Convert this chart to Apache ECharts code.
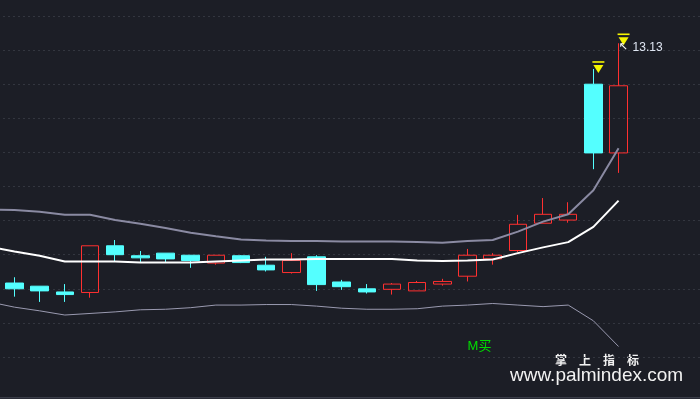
<!DOCTYPE html>
<html>
<head>
<meta charset="utf-8">
<script src="https://cdn.jsdelivr.net/npm/echarts@6/dist/echarts.min.js"></script>
<style>
  html, body { margin: 0; padding: 0; background: #1c1e26; }
  #chart { width: 700px; height: 399px; }
</style>
</head>
<body>
<div id="chart"></div>
<script>
// first slot is the day before the visible window (only the bands reach it)
const categories = ['D0', 'D1', 'D2', 'D3', 'D4', 'D5', 'D6', 'D7', 'D8', 'D9', 'D10', 'D11', 'D12',
    'D13', 'D14', 'D15', 'D16', 'D17', 'D18', 'D19', 'D20', 'D21', 'D22', 'D23', 'D24', 'D25'];

const opens  = [null, 8.56, 8.50, 8.39, 8.38, 9.27, 9.08, 9.13, 9.09, 8.94, 9.08, 8.90, 8.76, 9.06,
    8.58, 8.45, 8.44, 8.41, 8.54, 8.69, 9.02, 9.18, 9.70, 9.76, 12.35, 11.04];
const closes = [null, 8.45, 8.41, 8.34, 9.27, 9.10, 9.04, 9.02, 8.99, 9.09, 8.95, 8.81, 8.99, 8.53,
    8.49, 8.39, 8.54, 8.57, 8.59, 9.09, 9.09, 9.68, 9.87, 9.87, 11.04, 12.32];
const lows   = [null, 8.30, 8.20, 8.20, 8.28, 8.97, 8.96, 8.95, 8.85, 8.91, 8.94, 8.78, 8.74, 8.41,
    8.43, 8.36, 8.34, 8.41, 8.51, 8.59, 8.91, 9.15, 9.70, 9.71, 10.73, 10.66];
const highs  = [null, 8.67, 8.50, 8.54, 9.27, 9.38, 9.17, 9.13, 9.09, 9.09, 9.09, 9.06, 9.13, 9.09,
    8.62, 8.54, 8.56, 8.60, 8.64, 9.21, 9.13, 9.86, 10.18, 10.10, 12.64, 13.13];

const upperBand = [9.96, 9.95, 9.92, 9.86, 9.86, 9.76, 9.69, 9.61, 9.52, 9.45, 9.39, 9.37, 9.36,
    9.36, 9.35, 9.35, 9.35, 9.34, 9.33, 9.36, 9.38, 9.54, 9.73, 9.87, 10.33, 11.13];
const midBand   = [9.25, 9.16, 9.08, 8.97, 8.97, 8.97, 8.95, 8.95, 8.95, 8.97, 8.99, 9.01, 9.01,
    9.02, 9.02, 9.02, 9.02, 8.99, 8.98, 8.99, 9.01, 9.13, 9.24, 9.34, 9.63, 10.13];
const lowerBand = [8.20, 8.10, 8.03, 7.95, 7.98, 8.01, 8.05, 8.06, 8.09, 8.14, 8.14, 8.15, 8.15,
    8.12, 8.08, 8.06, 8.06, 8.07, 8.12, 8.14, 8.17, 8.14, 8.11, 8.14, 7.84, 7.35];

// yellow flags over these days, price tag on the last one
const flagDays = [24, 25];
const tagDay = 25;
// buy signal text
const signalDay = 19;
const signalValue = 7.36;
const signalText = 'M买';

const Y_MIN = 7.15, Y_MAX = 13.65, Y_STEP = 0.65;

const candleData = categories.map((c, i) =>
    opens[i] == null ? '-' : [opens[i], closes[i], lows[i], highs[i]]);

const markData = [];
flagDays.forEach(d => {
    const dy = d === tagDay ? -2 : 0;
    markData.push({
        coord: [categories[d], highs[d]],
        symbol: 'triangle', symbolRotate: 180, symbolSize: [10, 8],
        symbolOffset: [5, dy], itemStyle: { color: '#f5f500' }, label: { show: false }
    });
    markData.push({
        coord: [categories[d], highs[d]],
        symbol: 'rect', symbolSize: [12, 1.6],
        symbolOffset: [5, dy - 7], itemStyle: { color: '#f5f500' }, label: { show: false }
    });
});
markData.push({
    coord: [categories[tagDay], highs[tagDay]],
    value: highs[tagDay],
    symbol: 'circle', symbolSize: 0,
    label: {
        show: true, position: 'inside', align: 'left', verticalAlign: 'middle',
        offset: [0, 4],
        formatter: p => '{a|↖}{b|' + p.value.toFixed(2) + '}',
        rich: {
            a: { color: '#ffffff', fontSize: 11, width: 14, fontFamily: 'DejaVu Sans' },
            b: { color: '#dfe6f2', fontSize: 12, fontFamily: 'Liberation Sans' }
        }
    }
});
markData.push({
    coord: [categories[signalDay], signalValue],
    value: signalText,
    symbol: 'circle', symbolSize: 0,
    label: {
        show: true, position: 'inside', align: 'left', verticalAlign: 'middle',
        formatter: signalText, color: '#00dd00', fontSize: 13,
        fontFamily: 'Liberation Sans, Noto Sans CJK SC'
    }
});

const chart = echarts.init(document.getElementById('chart'));

const option = {
    backgroundColor: '#1c1e26',
    animation: false,
    grid: [
        { left: 3, right: 0, top: 16, height: 341, outerBoundsMode: 'none' },
        { left: -23.25, width: 654.4, top: 16, height: 341, outerBoundsMode: 'none' }
    ],
    xAxis: [
        { gridIndex: 0, type: 'value', min: 0, max: 1, show: false },
        { gridIndex: 1, type: 'category', data: categories, boundaryGap: true, show: false }
    ],
    yAxis: [
        {
            gridIndex: 0, type: 'value', min: Y_MIN, max: Y_MAX, interval: Y_STEP,
            axisLine: { show: false }, axisTick: { show: false }, axisLabel: { show: false },
            splitLine: { show: true, lineStyle: { color: '#33363f', type: [2, 3], width: 1 } }
        },
        {
            gridIndex: 1, type: 'value', min: Y_MIN, max: Y_MAX, interval: Y_STEP,
            show: false, splitLine: { show: false }
        }
    ],
    series: [
        {
            type: 'candlestick',
            xAxisIndex: 1, yAxisIndex: 1,
            data: candleData,
            barWidth: 18,
            z: 2,
            itemStyle: {
                color: 'transparent', borderColor: '#ff3030',
                color0: '#54ffff', borderColor0: '#54ffff', borderWidth: 1
            },
            markPoint: { data: markData, animation: false }
        },
        {
            type: 'line', name: 'upper', xAxisIndex: 1, yAxisIndex: 1,
            data: upperBand, symbol: 'none', z: 3,
            lineStyle: { color: '#8a8aa2', width: 2 }
        },
        {
            type: 'line', name: 'mid', xAxisIndex: 1, yAxisIndex: 1,
            data: midBand, symbol: 'none', z: 3,
            lineStyle: { color: '#ffffff', width: 2 }
        },
        {
            type: 'line', name: 'lower', xAxisIndex: 1, yAxisIndex: 1,
            data: lowerBand, symbol: 'none', z: 3,
            lineStyle: { color: '#9a9ab0', width: 1 }
        }
    ],
    graphic: [
        {
            type: 'rect', left: 0, top: 397, silent: true,
            shape: { width: 700, height: 1.5 }, style: { fill: '#3a3d48' }
        },
        {
            type: 'text', left: 555, top: 354, silent: true,
            style: {
                text: '掌　上　指　标', fill: '#f2f2f2',
                font: 'bold 12px "Noto Sans CJK SC"'
            }
        },
        {
            type: 'text', left: 510, top: 366, silent: true,
            style: {
                text: 'www.palmindex.com', fill: '#f2f2f2',
                font: '19px "Liberation Sans", Arial'
            }
        }
    ]
};

chart.setOption(option);
</script>
</body>
</html>
